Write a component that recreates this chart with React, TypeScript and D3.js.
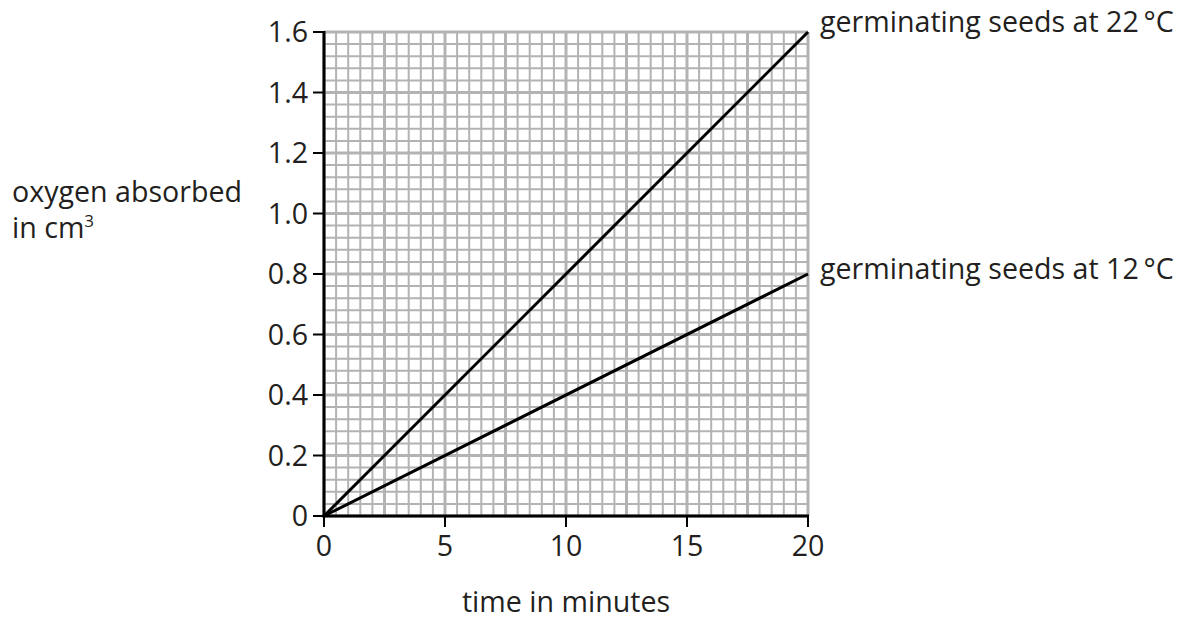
import React from 'react';
import * as d3 from 'd3';

// time in minutes
const timeValues = [0, 20];
// oxygen absorbed in cm3
const seeds22 = [0, 1.6];
const seeds12 = [0, 0.8];
const seriesLabels = ['germinating seeds at 22\u2009\u00b0C', 'germinating seeds at 12\u2009\u00b0C'];

const xTicks = [0, 5, 10, 15, 20];
const yTicks = [0, 0.2, 0.4, 0.6, 0.8, 1.0, 1.2, 1.4, 1.6];

const W = 1185;
const H = 627;
const FONT = '"Open Sans", "Noto Sans", sans-serif';
const FS = 28.6;
const INK = '#231f20';

const App: React.FC = () => {
  const x = d3.scaleLinear().domain([0, 20]).range([324, 808]);
  const y = d3.scaleLinear().domain([0, 1.6]).range([516, 32]);

  // grid: 40 small squares each way, heavier every 5th
  const xGrid = d3.range(0, 41).map(i => i * 0.5);
  const yGrid = d3.range(0, 41).map(i => i * 0.04);

  const line = d3
    .line<number>()
    .x((_, i) => x(timeValues[i]))
    .y(d => y(d));

  const series = [seeds22, seeds12];
  // label nudges (top label sits level with the end of its line, lower one just below)
  const labelShift = [-0.5, 5];

  return (
    <svg
      width={W}
      height={H}
      style={{ position: 'absolute', left: 0, top: 0, background: '#fff' }}
      fontFamily={FONT}
    >
      <g>
        {xGrid.map((v, i) => (
          <line
            key={'gx' + i}
            x1={x(v)}
            x2={x(v)}
            y1={y(0)}
            y2={y(1.6)}
            stroke="#b3b3b3"
            strokeWidth={i % 5 === 0 ? 3 : 2}
          />
        ))}
        {yGrid.map((v, i) => (
          <line
            key={'gy' + i}
            x1={x(0)}
            x2={x(20)}
            y1={y(v)}
            y2={y(v)}
            stroke="#b3b3b3"
            strokeWidth={i % 5 === 0 ? 3 : 2}
          />
        ))}
      </g>

      {/* data lines */}
      {series.map((s, i) => (
        <path key={'s' + i} d={line(s) || ''} fill="none" stroke="#000" strokeWidth={3} />
      ))}

      {/* axes */}
      <line x1={x(0)} x2={x(0)} y1={y(0) + 1.5} y2={y(1.6) - 1} stroke="#000" strokeWidth={3} />
      <line x1={x(0) - 1.5} x2={x(20) + 1} y1={y(0)} y2={y(0)} stroke="#000" strokeWidth={3} />

      {yTicks.map(t => (
        <g key={'yt' + t}>
          <line x1={x(0) - 11} x2={x(0)} y1={y(t)} y2={y(t)} stroke="#000" strokeWidth={2} />
          <text x={x(0) - 16} y={y(t)} dy="0.36em" textAnchor="end" fontSize={FS} fill={INK}>
            {t === 0 ? '0' : t.toFixed(1)}
          </text>
        </g>
      ))}

      {xTicks.map(t => (
        <g key={'xt' + t}>
          <line x1={x(t)} x2={x(t)} y1={y(0)} y2={y(0) + 11} stroke="#000" strokeWidth={2} />
          <text x={x(t)} y={y(0) + 40} textAnchor="middle" fontSize={FS} fill={INK}>
            {t}
          </text>
        </g>
      ))}

      {/* series labels */}
      {series.map((s, i) => (
        <text
          key={'sl' + i}
          x={x(20) + 12}
          y={y(s[s.length - 1]) + labelShift[i]}
          fontSize={FS}
          fill={INK}
        >
          {seriesLabels[i]}
        </text>
      ))}

      {/* axis titles */}
      <text x={12} y={202} fontSize={FS} fill={INK}>
        oxygen absorbed
      </text>
      <text x={12} y={238} fontSize={FS} fill={INK}>
        in cm
        <tspan dy={-11} fontSize={17}>
          3
        </tspan>
      </text>
      <text x={(x(0) + x(20)) / 2} y={612} textAnchor="middle" fontSize={FS} fill={INK}>
        time in minutes
      </text>
    </svg>
  );
};

export default App;
